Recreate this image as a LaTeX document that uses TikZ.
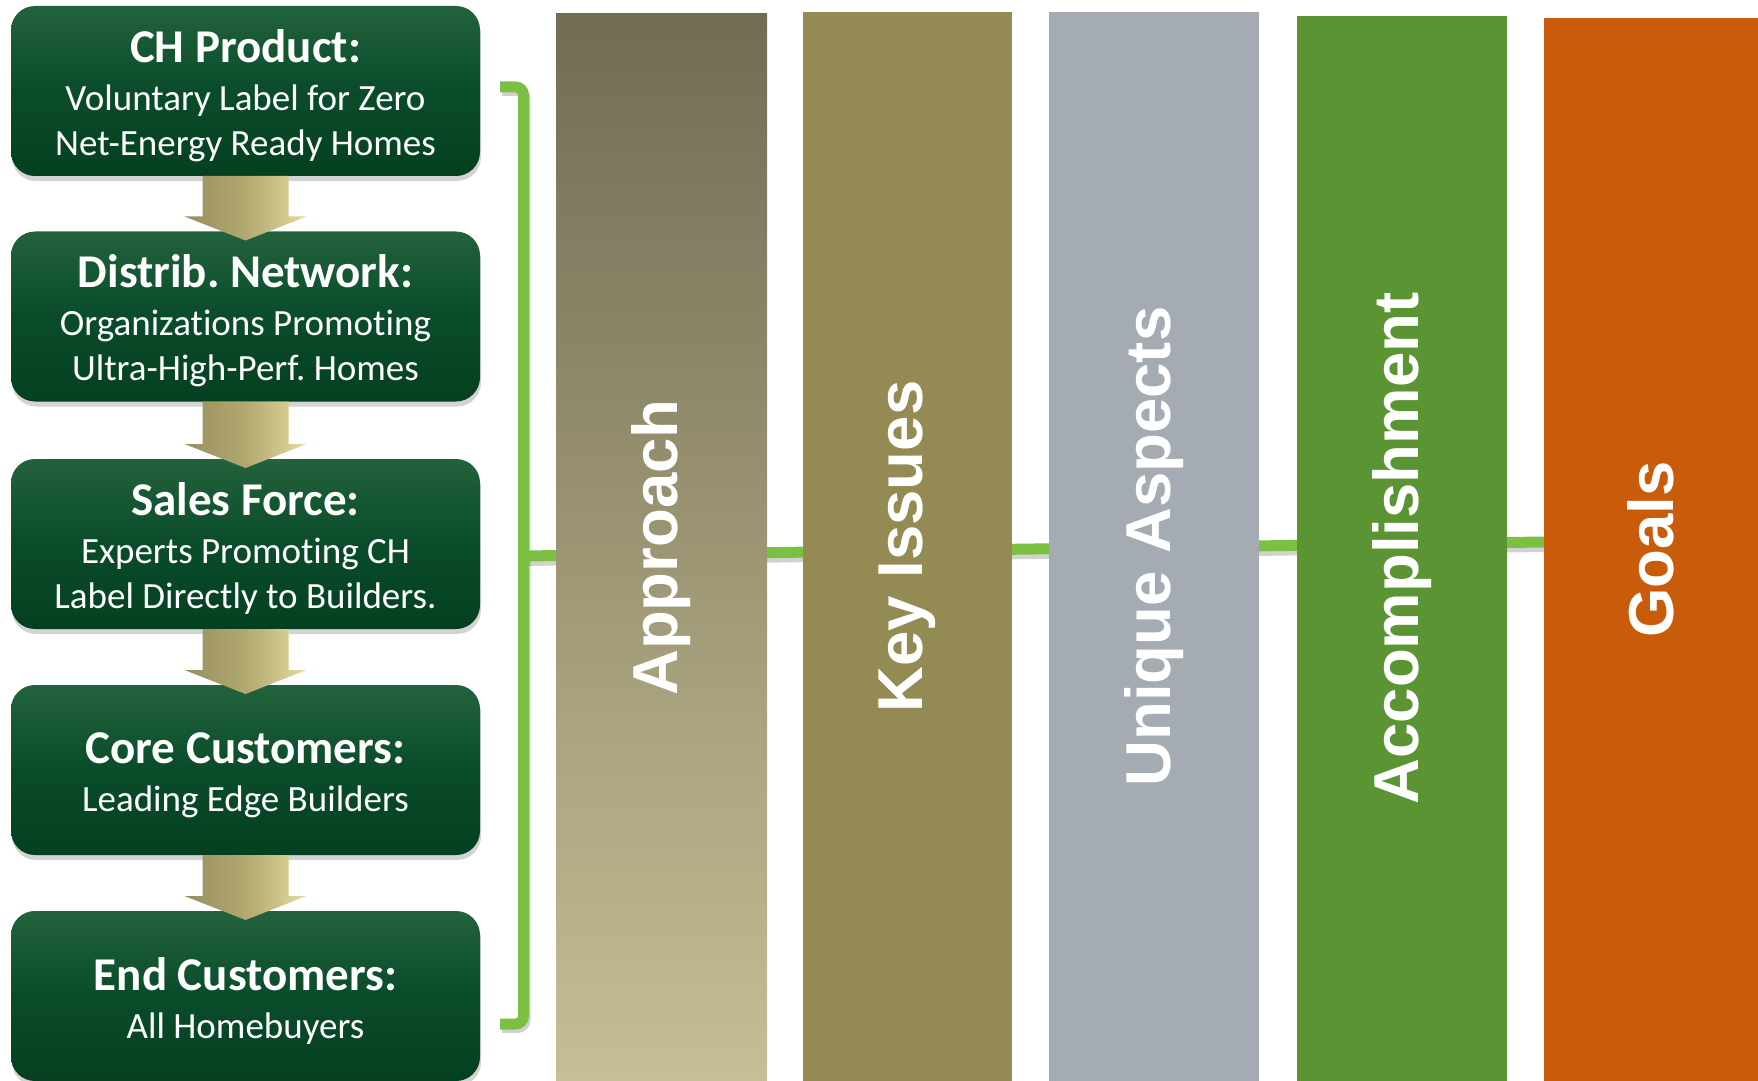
\documentclass[tikz,border=0pt]{standalone}
\usepackage{fontspec}
\newfontfamily\boxfont[Ligatures=NoCommon]{Carlito}
\newfontfamily\barfont{Liberation Sans}
\usetikzlibrary{calc,shadows,backgrounds}
\frenchspacing
\definecolor{boxtop}{RGB}{34,98,60}
\definecolor{boxmid}{RGB}{10,76,42}
\definecolor{boxbot}{RGB}{4,64,32}
\definecolor{linkgreen}{RGB}{124,192,67}
\definecolor{apptop}{RGB}{114,108,84}
\definecolor{appbot}{RGB}{197,191,149}
\definecolor{keycol}{RGB}{148,138,84}
\definecolor{uniqcol}{RGB}{165,171,179}
\definecolor{acccol}{RGB}{91,148,50}
\definecolor{goalcol}{RGB}{200,92,10}
\definecolor{arrdark}{RGB}{150,143,95}
\definecolor{arrmid}{RGB}{178,168,112}
\definecolor{arrlight}{RGB}{230,220,160}
\newcommand\stagetitle[1]{{\fontsize{23.5}{24}\selectfont\bfseries\rule{0pt}{21pt}#1}}
\tikzset{
  stage/.style={rounded corners=12pt, top color=boxtop, bottom color=boxbot, middle color=boxmid,
    minimum width=234.5pt, minimum height=85pt, inner sep=0pt, outer sep=0pt, text=white, align=center,
    font=\boxfont\fontsize{18.5}{22.5}\selectfont,
    drop shadow={shadow xshift=0.5pt, shadow yshift=-2.5pt, opacity=0.35}},
  bar/.style={rectangle, inner sep=0pt, outer sep=0pt, draw=none},
  bartext/.style={rotate=90, text=white, inner sep=0pt, font=\barfont\bfseries\fontsize{31.75}{36}\selectfont},
  flowarrow/.style={left color=arrdark, right color=arrlight, middle color=arrmid},
  link/.style={draw=linkgreen, line width=5.5pt},
  linkshadow/.style={draw=black, opacity=0.18, line width=5pt}
}
\begin{document}
\begin{tikzpicture}[x=0.5pt,y=-0.5pt]
\useasboundingbox (0,0) rectangle (1758,1081);
% columns on the right
\node[bar, top color=apptop, bottom color=appbot, minimum width=105.5pt, minimum height=533.5pt] (approach) at (661.5,547.5) {};
\node[bar, fill=keycol, minimum width=104.5pt, minimum height=534.5pt] (keyiss) at (907.5,546.5) {};
\node[bar, fill=uniqcol, minimum width=105pt, minimum height=534.5pt] (unique) at (1154,546.5) {};
\node[bar, fill=acccol, minimum width=105pt, minimum height=532.5pt] (accomp) at (1402,548.5) {};
\node[bar, fill=goalcol, minimum width=107pt, minimum height=531.5pt] (goals) at (1651,549.5) {};
\node[bartext] (approachtxt) at (approach) {Approach};
\node[bartext] (keyisstxt) at (keyiss) {Key Issues};
\node[bartext] (uniquetxt) at (unique) {Unique Aspects};
\node[bartext] (accomptxt) at (accomp) {Accomplishment};
\node[bartext] (goalstxt) at (goals) {Goals};
% chain of boxes on the left
\node[stage] (prod) at (245.5,91) {\stagetitle{CH Product:}\\[1.5pt]Voluntary Label for Zero\\Net-Energy Ready Homes};
\node[stage] (dist) at (245.5,316.5) {\stagetitle{Distrib. Network:}\\[1.5pt]Organizations Promoting\\Ultra-High-Perf. Homes};
\node[stage] (sales) at (245.5,544) {\stagetitle{Sales Force:}\\[1.5pt]Experts Promoting CH\\Label Directly to Builders.};
\node[stage] (core) at (245.5,770) {\stagetitle{Core Customers:}\\[1.5pt]Leading Edge Builders};
\node[stage] (endc) at (245.5,996) {\stagetitle{End Customers:}\\[1.5pt]All Homebuyers};
\foreach \a/\b in {prod/dist,dist/sales,sales/core,core/endc}
  \path[flowarrow] ($(\a.south)+(-43,0)$) -- ($(\a.south)+(43,0)$) -- ($(\b.north)+(43,-15)$)
    -- ($(\b.north)+(61,-15)$) -- ($(\b.north)+(0,9)$) -- ($(\b.north)+(-61,-15)$)
    -- ($(\b.north)+(-43,-15)$) -- cycle;
% bracket and the line behind the columns
\coordinate (brtop) at (500,87);
\coordinate (brbot) at (500,1024);
\coordinate (brmid) at (523.5,556);
\begin{scope}[on background layer]
  \draw[linkshadow, rounded corners=4pt] ($(brtop)+(2,4)$) -- ++(23.5,0) -- ++(0,937) -- ($(brbot)+(2,4)$);
  \draw[linkshadow] ($(brmid)+(2,5)$) -- ($(goals.west)+(0,-2.5)$);
  \draw[link, rounded corners=4pt] (brtop) -- ++(23.5,0) -- ++(0,937) -- (brbot);
  \draw[link] (brmid) -- ($(goals.west)+(0,-7.5)$);
\end{scope}
\end{tikzpicture}
\end{document}
